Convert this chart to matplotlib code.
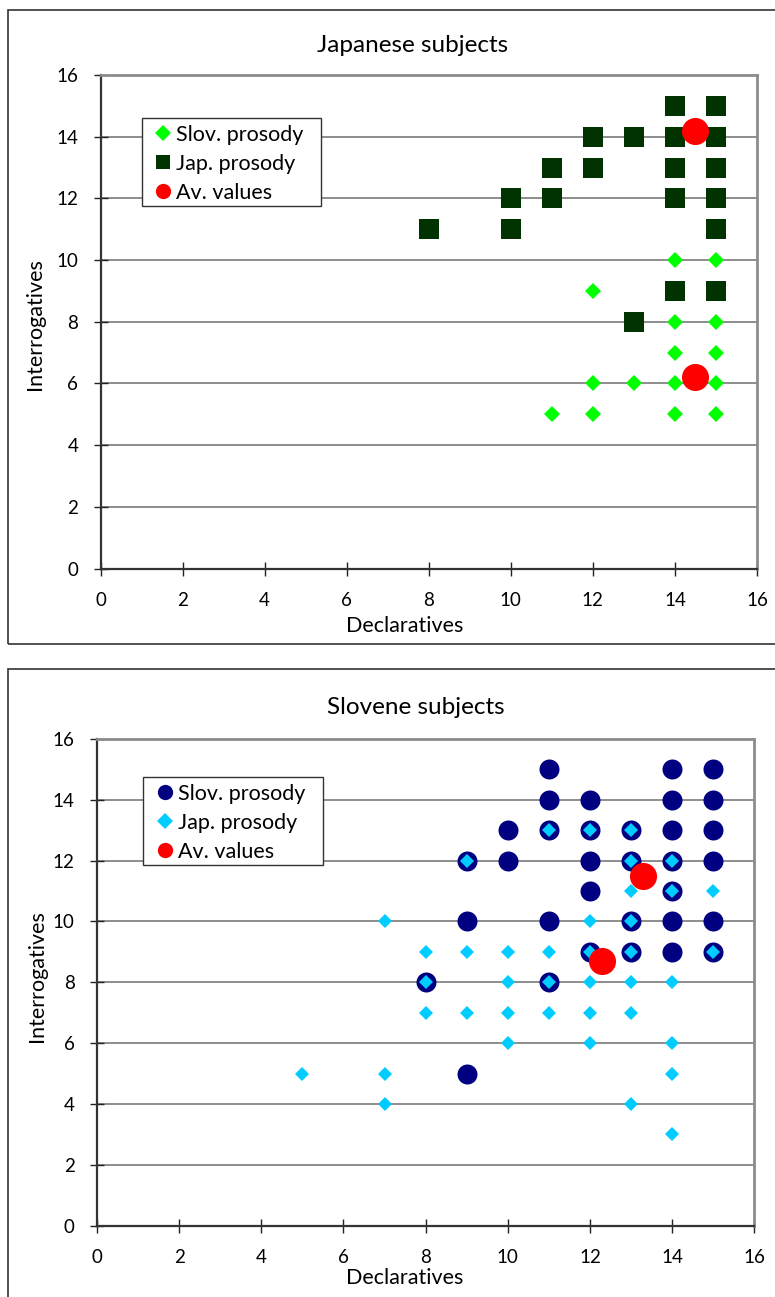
import matplotlib

matplotlib.use("Agg")
import matplotlib.pyplot as plt
from matplotlib.lines import Line2D
from matplotlib.patches import Rectangle

plt.rcParams["font.family"] = ["Lato", "DejaVu Sans"]

W, H = 775, 1297

# Japanese subjects
jp_slov_x = [12, 11, 12, 12, 13, 14, 14, 14, 14, 14, 15, 15, 15, 15, 15]
jp_slov_y = [9, 5, 6, 5, 6, 10, 8, 7, 6, 5, 10, 8, 7, 6, 5]
jp_jap_x = [8, 10, 10, 11, 11, 12, 12, 13, 13, 14, 14, 14, 14, 14, 15, 15, 15, 15, 15, 15]
jp_jap_y = [11, 12, 11, 13, 12, 14, 13, 14, 8, 15, 14, 13, 12, 9, 15, 14, 13, 12, 11, 9]
jp_avg_x = [14.5, 14.5]
jp_avg_y = [14.2, 6.2]

# Slovene subjects
sl_slov_x = [11, 14, 15, 11, 12, 14, 15, 10, 11, 12, 13, 14, 15, 9, 10, 12, 13, 14, 15,
             12, 14, 9, 11, 13, 14, 15, 12, 13, 14, 15, 8, 11, 9]
sl_slov_y = [15, 15, 15, 14, 14, 14, 14, 13, 13, 13, 13, 13, 13, 12, 12, 12, 12, 12, 12,
             11, 11, 10, 10, 10, 10, 10, 9, 9, 9, 9, 8, 8, 5]
sl_jap_x = [11, 12, 13, 9, 13, 14, 13, 14, 15, 7, 12, 13, 8, 9, 10, 11, 12, 13, 15,
            8, 10, 11, 12, 13, 14, 8, 9, 10, 11, 12, 13, 10, 12, 14, 5, 7, 14, 7, 13, 14]
sl_jap_y = [13, 13, 13, 12, 12, 12, 11, 11, 11, 10, 10, 10, 9, 9, 9, 9, 9, 9, 9,
            8, 8, 8, 8, 8, 8, 7, 7, 7, 7, 7, 7, 6, 6, 6, 5, 5, 5, 4, 4, 3]
sl_avg_x = [13.3, 12.3]
sl_avg_y = [11.5, 8.7]

TICKS = [0, 2, 4, 6, 8, 10, 12, 14, 16]
RED = "#FF0000"
TICK_FS = 13.5
LABEL_FS = 15.5
TITLE_FS = 17.5


def px_axes(fig, x0, x1, y_top, y_bot):
    return fig.add_axes([x0 / W, 1 - y_bot / H, (x1 - x0) / W, (y_bot - y_top) / H])


def fig_text(fig, x, y, text, size, rotation=0):
    fig.text(x / W, 1 - y / H, text, fontsize=size, rotation=rotation, ha="center", va="center")


def fig_box(fig, x0, y0, x1, y1, lw=1.2, fill=False, zorder=1):
    fig.patches.append(Rectangle((x0 / W, 1 - y1 / H), (x1 - x0) / W, (y1 - y0) / H,
                                 transform=fig.transFigure, fill=fill, facecolor="white",
                                 edgecolor="#333333", linewidth=lw, zorder=zorder))


def style_axes(ax):
    ax.set_xlim(0, 16)
    ax.set_ylim(0, 16)
    ax.set_xticks(TICKS)
    ax.set_yticks(TICKS)
    ax.grid(axis="y", color="#858585", linewidth=1.3, zorder=0)
    ax.set_axisbelow(True)
    for side in ["top", "right"]:
        ax.spines[side].set_color("#8c8c8c")
        ax.spines[side].set_linewidth(2.0)
    for side in ["left", "bottom"]:
        ax.spines[side].set_color("#333333")
        ax.spines[side].set_linewidth(1.6)
    ax.tick_params(axis="both", direction="inout", length=10, width=1.0, color="#222222",
                   labelsize=TICK_FS, labelcolor="black")
    ax.tick_params(axis="y", pad=11)
    ax.tick_params(axis="x", pad=12)


def add_legend(fig, ax, handles, box):
    # box = (left, top, right, bottom) in pixels; Excel-style frame drawn on the axes
    x0, y0, x1, y1 = box
    ax.add_patch(Rectangle((x0 / W, 1 - y1 / H), (x1 - x0) / W, (y1 - y0) / H,
                           transform=fig.transFigure, facecolor="white", edgecolor="#333333",
                           linewidth=1.0, zorder=9))
    leg = ax.legend(handles=handles, loc="upper left",
                    bbox_to_anchor=((x0 + 7.5) / W, 1 - (y0 + 0.5) / H),
                    bbox_transform=fig.transFigure, fontsize=LABEL_FS, frameon=False,
                    handlelength=0.7, handletextpad=0.25, labelspacing=0.42,
                    borderpad=0.3, borderaxespad=0)
    leg.set_zorder(10)


fig = plt.figure(figsize=(W / 100, H / 100), dpi=100)

# panel borders
fig_box(fig, 7.5, 10, 790, 644)
fig_box(fig, 7.5, 669, 790, 1320)

# top chart
ax1 = px_axes(fig, 100.5, 757, 75, 568.5)
style_axes(ax1)
ax1.plot(jp_slov_x, jp_slov_y, linestyle="none", marker="D", markersize=8.6,
         color="#00FF00", markeredgewidth=0, zorder=3)
ax1.plot(jp_jap_x, jp_jap_y, linestyle="none", marker="s", markersize=14,
         color="#003300", markeredgewidth=0, zorder=3)
ax1.plot(jp_avg_x, jp_avg_y, linestyle="none", marker="o", markersize=19.5,
         color=RED, markeredgewidth=0, zorder=4)
add_legend(fig, ax1, [
    Line2D([], [], linestyle="none", marker="D", markersize=8.6, color="#00FF00", markeredgewidth=0, label="Slov. prosody"),
    Line2D([], [], linestyle="none", marker="s", markersize=10.5, color="#003300", markeredgewidth=0, label="Jap. prosody"),
    Line2D([], [], linestyle="none", marker="o", markersize=11, color=RED, markeredgewidth=0, label="Av. values"),
], (141.7, 117.7, 320.7, 205.7))
fig_text(fig, 413, 46, "Japanese subjects", TITLE_FS)
fig_text(fig, 405, 626, "Declaratives", LABEL_FS)
fig_text(fig, 35, 324, "Interrogatives", LABEL_FS, rotation=90)

# bottom chart
ax2 = px_axes(fig, 97, 754.3, 739, 1225.6)
style_axes(ax2)
ax2.plot(sl_slov_x, sl_slov_y, linestyle="none", marker="o", markersize=14.4,
         color="#000080", markeredgewidth=0, zorder=3)
ax2.plot(sl_jap_x, sl_jap_y, linestyle="none", marker="D", markersize=7,
         color="#00CCFF", markeredgewidth=0, zorder=3)
ax2.plot(sl_avg_x, sl_avg_y, linestyle="none", marker="o", markersize=19.5,
         color=RED, markeredgewidth=0, zorder=4)
add_legend(fig, ax2, [
    Line2D([], [], linestyle="none", marker="o", markersize=11, color="#000080", markeredgewidth=0, label="Slov. prosody"),
    Line2D([], [], linestyle="none", marker="D", markersize=8, color="#00CCFF", markeredgewidth=0, label="Jap. prosody"),
    Line2D([], [], linestyle="none", marker="o", markersize=11, color=RED, markeredgewidth=0, label="Av. values"),
], (143.3, 776.7, 323.3, 865))
fig_text(fig, 416, 707, "Slovene subjects", TITLE_FS)
fig_text(fig, 405, 1278, "Declaratives", LABEL_FS)
fig_text(fig, 37, 976, "Interrogatives", LABEL_FS, rotation=90)

fig.savefig("out.png", dpi=100, facecolor="white")
